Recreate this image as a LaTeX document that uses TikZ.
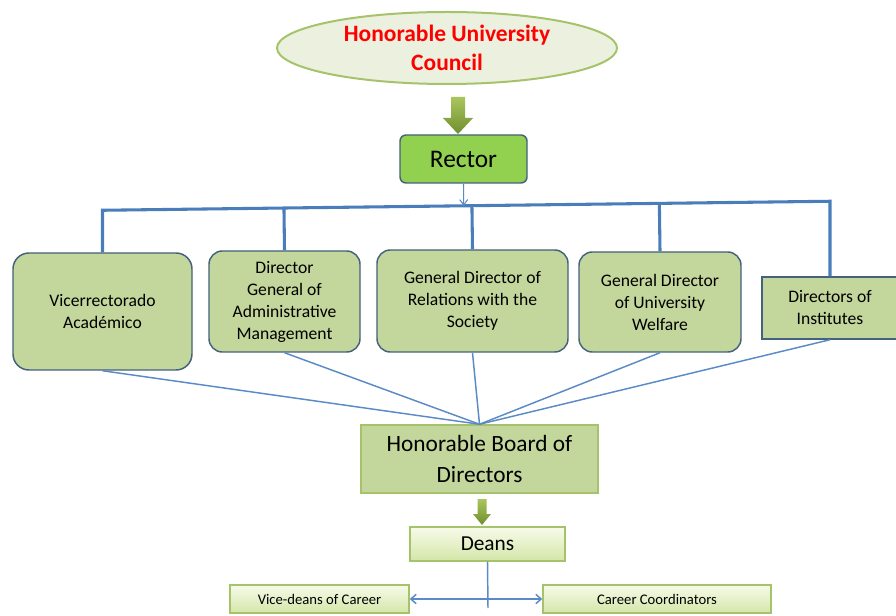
\documentclass[tikz,border=0pt]{standalone}
\usepackage{fontspec}
\setmainfont{Carlito}
\usepackage{xcolor}
\usetikzlibrary{shapes.geometric,calc,positioning,arrows.meta,shadows}
\definecolor{councilFill}{HTML}{EBF1DE}
\definecolor{councilLine}{HTML}{A6C36C}
\definecolor{rectorFill}{HTML}{92D050}
\definecolor{deptFill}{HTML}{C3D69B}
\definecolor{deptLine}{HTML}{44617D}
\definecolor{busBlue}{HTML}{4A7EBB}
\definecolor{linkBlue}{HTML}{5B8BC6}
\definecolor{arrowTop}{HTML}{A9C65E}
\definecolor{arrowBot}{HTML}{6F8E2E}
\definecolor{paleTop}{HTML}{F7FBEA}
\definecolor{paleBot}{HTML}{D4E6A8}
\tikzset{
  council/.style={ellipse, draw=councilLine, line width=1.5pt, fill=councilFill, inner sep=0pt,
    minimum width=255pt, minimum height=54pt, align=center, text=red,
    font=\fontsize{17.6}{22}\selectfont\bfseries},
  rectorbox/.style={draw=deptLine, line width=1.1pt, fill=rectorFill, rounded corners=4.5pt,
    minimum width=95.25pt, minimum height=36pt, font=\fontsize{19}{23}\selectfont},
  dept/.style={draw=deptLine, line width=1.1pt, fill=deptFill, rounded corners=10pt, inner sep=0pt,
    align=center, font=\fontsize{13.2}{16.5}\selectfont},
  boardbox/.style={draw=councilLine, line width=1.1pt, fill=deptFill, inner sep=0pt, align=center,
    minimum width=177.75pt, minimum height=51pt, font=\fontsize{17.5}{23}\selectfont,
    drop shadow={shadow xshift=1pt, shadow yshift=-1pt, opacity=0.25}},
  palebox/.style={draw=councilLine, line width=1.1pt, top color=paleTop, bottom color=paleBot,
    inner sep=0pt, drop shadow={shadow xshift=1pt, shadow yshift=-1pt, opacity=0.25}},
  greenarrow/.style={top color=arrowTop, bottom color=arrowBot},
  bus/.style={draw=busBlue, line width=2.3pt},
  link/.style={draw=linkBlue, line width=1.1pt}
}
% block arrow: #1 tail, #2 tip, #3 half shaft, #4 half head, #5 head length
\newcommand{\fatarrow}[5]{%
  \shade[greenarrow] ($(#1)+(-#3,0)$) -- ($(#2)+(-#3,-#5)$) -- ($(#2)+(-#4,-#5)$) -- (#2)
    -- ($(#2)+(#4,-#5)$) -- ($(#2)+(#3,-#5)$) -- ($(#1)+(#3,0)$) -- cycle;}
\begin{document}
\begin{tikzpicture}[x=0.75pt, y=-0.75pt]
\useasboundingbox (0,0) rectangle (896,616);
% top of the chart
\node[council] (council) at (447,48) {Honorable University\\Council};
\node[rectorbox] (rector) at (463.5,159) {Rector};
\coordinate (arrowAtail) at (458,97);
\coordinate (arrowAtip) at (458,134);
\fatarrow{arrowAtail}{arrowAtip}{7}{15}{16}

% second level
\node[dept, rounded corners=12pt, minimum width=134.25pt, minimum height=87.75pt] (vicerector) at (102.5,311.5) {Vicerrectorado\\Académico};
\node[dept, minimum width=113.25pt, minimum height=75.75pt] (dirAdmin) at (284.5,301.5) {Director\\General of\\Administrative\\Management};
\node[dept, minimum width=143.25pt, minimum height=76.5pt] (dirSociety) at (472.5,301) {General Director of\\Relations with the\\Society};
\node[dept, minimum width=121.5pt, minimum height=75pt] (dirWelfare) at (660,302) {General Director\\of University\\Welfare};
\node[dept, rounded corners=0pt, minimum width=102pt, minimum height=46.5pt] (dirInst) at (830,308) {Directors of\\Institutes};

% bus from the rector
\path (vicerector.north) ++(0,-42) coordinate (busL);
\path (dirInst.north) ++(0,-75) coordinate (busR);
\draw[bus] (vicerector.north) -- (busL) -- (busR) -- (dirInst.north);
\draw[bus] (dirAdmin.north) -- ($(busL)!(dirAdmin.north)!(busR)$);
\draw[bus] (dirSociety.north) -- ($(busL)!(dirSociety.north)!(busR)$);
\draw[bus] (dirWelfare.north) -- ($(busL)!(dirWelfare.north)!(busR)$);
\draw[link, line width=0.8pt, -{Straight Barb[length=4pt,width=6pt]}] (rector.south) -- ($(busL)!(rector.south)!(busR)$);

% board and below
\node[boardbox] (board) at (479.5,459) {Honorable Board of\\Directors};
\foreach \n in {vicerector,dirAdmin,dirSociety,dirWelfare,dirInst}
  \draw[link] (\n.south) -- (board.north);
\node[palebox, minimum width=116.25pt, minimum height=25.5pt, font=\fontsize{16}{19}\selectfont] (deans) at (487.5,544) {Deans};
\coordinate (arrowBtail) at (482,499);
\coordinate (arrowBtip) at (482,525);
\fatarrow{arrowBtail}{arrowBtip}{4.5}{9}{11}
\node[palebox, minimum width=134.25pt, minimum height=21pt, font=\fontsize{11}{13}\selectfont] (vicedeans) at (319.5,599) {Vice-deans of Career};
\node[palebox, minimum width=171pt, minimum height=21pt, font=\fontsize{11}{13}\selectfont] (careerCoord) at (657,599) {Career Coordinators};
\coordinate (deansEnd) at (488,608);
\draw[link] (deans.south) -- (deansEnd);
\draw[link, {Straight Barb[length=4pt,width=7pt]}-{Straight Barb[length=4pt,width=7pt]}] (vicedeans.east) -- (careerCoord.west);
\end{tikzpicture}
\end{document}
